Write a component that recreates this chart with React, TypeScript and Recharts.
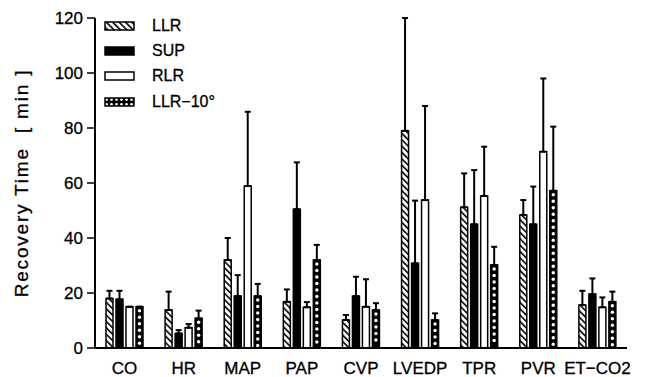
import React from 'react';
import {Bar, BarChart, ErrorBar, Legend, XAxis, YAxis} from "recharts";

// categories on the x axis
const categories = ['CO', 'HR', 'MAP', 'PAP', 'CVP', 'LVEDP', 'TPR', 'PVR', 'ET\u2212CO2'];

// mean recovery time [min] and upper SD for each position
const llr = [18, 13.8, 32, 16.8, 10.2, 79, 51.2, 48.4, 15.6];
const llrSd = [2.8, 6.7, 8, 4.5, 1.8, 41, 12.3, 5.4, 5.2];
const sup = [17.7, 5.3, 18.9, 50.5, 18.9, 30.8, 45, 45, 19.6];
const supSd = [3.1, 1.2, 7.6, 17, 7, 22.8, 19.7, 13.7, 5.7];
const rlr = [15, 7.4, 58.9, 14.8, 15, 53.8, 55.3, 71.4, 14.8];
const rlrSd = [0, 1.3, 27, 1.9, 10, 34.2, 17.9, 26.6, 3.6];
const llr10 = [15, 10.8, 18.9, 32, 13.8, 10.2, 30.2, 57.2, 16.8];
const llr10Sd = [0, 2.8, 4.4, 5.5, 2.5, 2.4, 6.6, 23.3, 3.7];

const yTicks = [0, 20, 40, 60, 80, 100, 120];
const legendOrder = ['llr', 'sup', 'rlr', 'llr10'];

const data = categories.map((name, i) => ({
    name,
    llr: llr[i],
    llrErr: [0, llrSd[i]],
    sup: sup[i],
    supErr: [0, supSd[i]],
    rlr: rlr[i],
    rlrErr: [0, rlrSd[i]],
    llr10: llr10[i],
    llr10Err: [0, llr10Sd[i]],
}));

const FONT = '"Liberation Sans", Arial, Helvetica, sans-serif';

const DottedBar = (props: any) => {
    const {x, y, width, height} = props;
    if (!height || height <= 0) return null;
    const dots = [];
    for (let cy = y + 4; cy < y + height - 2; cy += 6.5) {
        dots.push(<circle key={cy} cx={x + width / 2} cy={cy} r={1.7} fill="#fff"/>);
    }
    return (
        <g>
            <rect x={x} y={y} width={width} height={height} fill="#000" stroke="#000" strokeWidth={1.5}/>
            {dots}
        </g>
    );
};

const swatchFill: Record<string, string> = {
    llr: 'url(#hatch)',
    sup: '#000',
    rlr: '#fff',
    llr10: 'url(#dotsLegend)',
};

const LegendBox = (props: any) => {
    const items = [...(props.payload || [])].sort(
        (a: any, b: any) => legendOrder.indexOf(a.dataKey) - legendOrder.indexOf(b.dataKey));
    return (
        <div style={{fontFamily: FONT, fontSize: 16, color: '#000', WebkitTextStroke: '0.3px #000'}}>
            {items.map((item: any) => (
                <div key={item.dataKey} style={{display: 'flex', alignItems: 'center', height: 25.3}}>
                    <svg width={32} height={10} style={{marginRight: 16}}>
                        <rect x={1} y={1} width={29} height={8} fill={swatchFill[item.dataKey]} stroke="#000" strokeWidth={1.5}/>
                    </svg>
                    <span>{item.value}</span>
                </div>
            ))}
        </div>
    );
};

const XTick = (props: any) => {
    const {x, payload} = props;
    return (
        <text x={x} y={374} textAnchor="middle" fontSize={17} fontFamily={FONT} fill="#000" stroke="#000"
              strokeWidth={0.3}>
            {payload.value}
        </text>
    );
};

const yLabel = () => (
    <text x={28} y={183} transform="rotate(-90, 28, 183)" textAnchor="middle" fontSize={19} fontFamily={FONT}
          letterSpacing={1.8} fill="#000" stroke="#000" strokeWidth={0.3} style={{whiteSpace: 'pre'}}>
        {'Recovery Time  [ min ]'}
    </text>
);

const App: React.FC = () => {
    return (
        <div style={{position: 'absolute', left: 0, top: 0, width: 645, height: 377, background: '#fff'}}>
            <BarChart width={645} height={377} data={data} margin={{top: 18, right: 18, bottom: 0, left: 0}}
                      barSize={7} barGap={3}>
                <defs>
                    <pattern id="hatch" width={4.5} height={4.5} patternUnits="userSpaceOnUse"
                             patternTransform="rotate(-45)">
                        <rect width={4.5} height={4.5} fill="#fff"/>
                        <line x1={0} y1={0} x2={0} y2={4.5} stroke="#000" strokeWidth={3.2}/>
                    </pattern>
                    <pattern id="dotsLegend" width={5} height={5} patternUnits="userSpaceOnUse">
                        <rect width={5} height={5} fill="#000"/>
                        <circle cx={2.5} cy={2.5} r={1.4} fill="#fff"/>
                    </pattern>
                </defs>
                <XAxis dataKey="name" height={29} axisLine={{stroke: '#000', strokeWidth: 2}} tickLine={false}
                       tick={<XTick/>} interval={0}/>
                <YAxis domain={[0, 120]} ticks={yTicks} width={95} tickSize={8} tickMargin={4}
                       axisLine={{stroke: '#000', strokeWidth: 2}} tickLine={{stroke: '#000', strokeWidth: 1.5}}
                       tick={{fill: '#000', fontSize: 17, fontFamily: FONT, stroke: '#000', strokeWidth: 0.3}}
                       label={yLabel}/>
                <Legend layout="horizontal" verticalAlign="middle" align="center" content={<LegendBox/>}
                        wrapperStyle={{top: 13, left: 104, width: 200, height: 104}}/>
                <Bar dataKey="llr" name="LLR" fill="url(#hatch)" stroke="#000" strokeWidth={1.5}
                     isAnimationActive={false}>
                    <ErrorBar dataKey="llrErr" direction="y" width={3} stroke="#000" strokeWidth={2}/>
                </Bar>
                <Bar dataKey="sup" name="SUP" fill="#000" stroke="#000" strokeWidth={1.5} isAnimationActive={false}>
                    <ErrorBar dataKey="supErr" direction="y" width={3} stroke="#000" strokeWidth={2}/>
                </Bar>
                <Bar dataKey="rlr" name="RLR" fill="#fff" stroke="#000" strokeWidth={1.5} isAnimationActive={false}>
                    <ErrorBar dataKey="rlrErr" direction="y" width={3} stroke="#000" strokeWidth={2}/>
                </Bar>
                <Bar dataKey="llr10" name={'LLR\u221210\u00b0'} fill="#000" shape={<DottedBar/>}
                     isAnimationActive={false}>
                    <ErrorBar dataKey="llr10Err" direction="y" width={3} stroke="#000" strokeWidth={2}/>
                </Bar>
            </BarChart>
        </div>
    );
};

export default App;
